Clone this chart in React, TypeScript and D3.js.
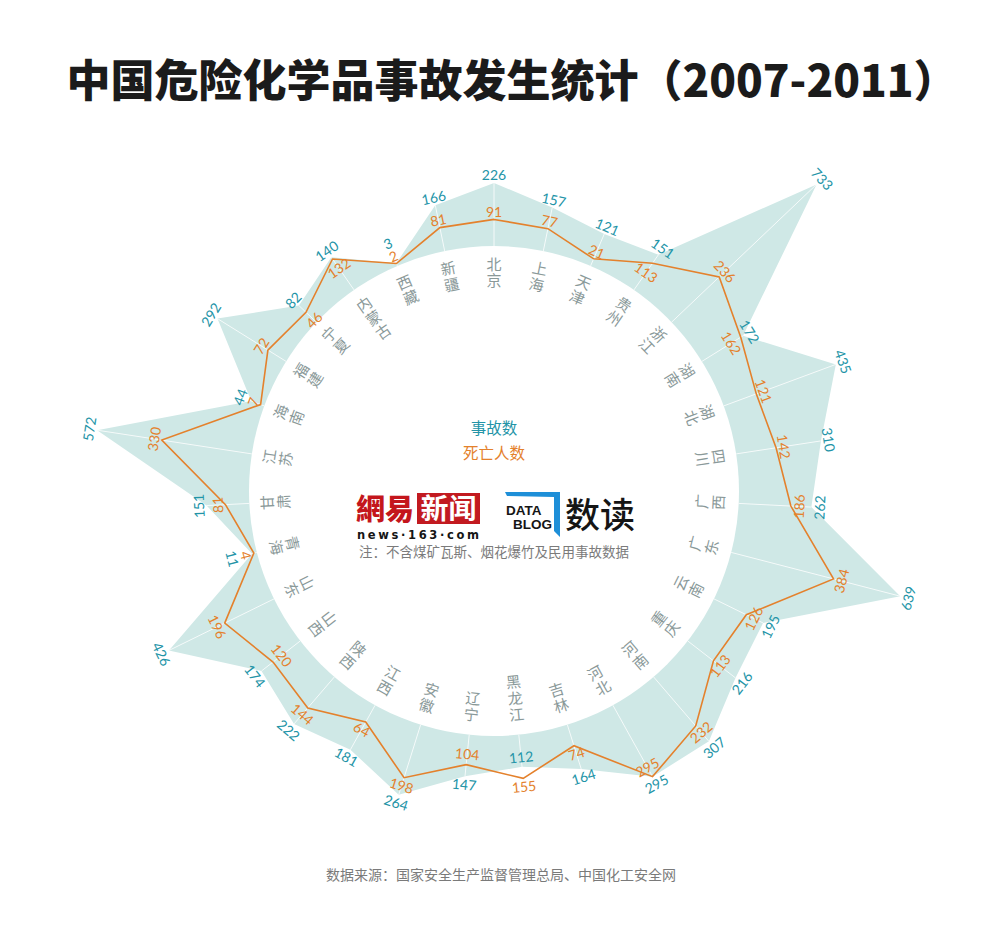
import { useEffect, useRef } from 'react';
import * as d3 from 'd3';

// clockwise from the top
const PROVINCES = [
  '北京', '上海', '天津', '贵州', '浙江', '湖南', '湖北', '四川', '广西', '广东', '云南',
  '重庆', '河南', '河北', '吉林', '黑龙江', '辽宁', '安徽', '江西', '陕西', '山西', '山东',
  '青海', '甘肃', '江苏', '海南', '福建', '宁夏', '内蒙古', '西藏', '新疆',
];
const ACCIDENTS = [
  226, 157, 121, 151, 733, 172, 435, 310, 262, 639, 195,
  216, 307, 295, 164, 112, 147, 264, 181, 222, 174, 426,
  11, 151, 572, 44, 292, 82, 140, 3, 166,
];
const DEATHS = [
  91, 77, 21, 113, 236, 162, 121, 142, 186, 384, 126,
  113, 232, 295, 74, 155, 104, 198, 64, 144, 120, 196,
  4, 81, 330, 7, 72, 46, 132, 2, 81,
];

const TEAL = '#2394a7';
const ORANGE = '#e4812c';
const FILL = '#cfe8e6';
const LABEL_GRAY = '#8a9999';
const CJK = '"Noto Sans CJK SC", "Noto Sans", sans-serif';

const W = 1001;
const H = 940;
const CX = 494;
const CY = 491;
const INNER = 245;

function RadialChart() {
  const svgRef = useRef<SVGSVGElement>(null);

  useEffect(() => {
    if (!svgRef.current) return;
    const svg = d3.select(svgRef.current);
    svg.selectAll('*').remove();
    svg.attr('width', W).attr('height', H);

    svg.append('rect').attr('width', W).attr('height', H).attr('fill', '#fff');

    // Title
    svg.append('text')
      .attr('x', 512).attr('y', 97)
      .attr('text-anchor', 'middle')
      .attr('font-family', CJK).attr('font-weight', 900).attr('font-size', 44)
      .attr('fill', '#1b1b1b')
      .text('中国危险化学品事故发生统计（2007-2011）');

    const n = PROVINCES.length;
    const idx = d3.range(n);
    const angle = d3.scaleLinear().domain([0, n]).range([0, 2 * Math.PI]);
    const r = d3.scaleLinear().domain([0, d3.max(ACCIDENTS)!]).range([247, 445]);
    const pt = (a: number, rad: number) => [rad * Math.sin(a), -rad * Math.cos(a)];
    const deg = (a: number) => (a * 180) / Math.PI;
    // lower half gets flipped so text stays readable
    const flipped = (a: number) => deg(a) > 90 && deg(a) < 265;

    const g = svg.append('g').attr('transform', `translate(${CX},${CY})`);

    const area = d3.lineRadial<number>()
      .angle(i => angle(i))
      .radius(i => r(ACCIDENTS[i]))
      .curve(d3.curveLinearClosed);
    g.append('path').attr('d', area(idx)).attr('fill', FILL);
    g.append('circle').attr('r', INNER).attr('fill', '#fff');

    // spokes
    idx.forEach(i => {
      const a = angle(i);
      const [x1, y1] = pt(a, INNER);
      const [x2, y2] = pt(a, r(Math.max(ACCIDENTS[i], DEATHS[i])));
      g.append('line')
        .attr('x1', x1).attr('y1', y1).attr('x2', x2).attr('y2', y2)
        .attr('stroke', '#fff').attr('stroke-width', 1).attr('opacity', 0.8);
    });

    const line = d3.lineRadial<number>()
      .angle(i => angle(i))
      .radius(i => r(DEATHS[i]))
      .curve(d3.curveLinearClosed);
    g.append('path').attr('d', line(idx))
      .attr('fill', 'none').attr('stroke', ORANGE).attr('stroke-width', 1.6);

    // province names, stacked along the radius
    idx.forEach(i => {
      const a = angle(i);
      const chars = Array.from(PROVINCES[i]);
      const flip = flipped(a);
      const outer = flip ? 224 : 228;
      const rot = flip ? deg(a) - 180 : deg(a);
      chars.forEach((c, k) => {
        const pos = flip ? chars.length - 1 - k : k;
        const [x, y] = pt(a, outer - pos * 16.5);
        g.append('text')
          .attr('transform', `translate(${x},${y}) rotate(${rot})`)
          .attr('text-anchor', 'middle').attr('dominant-baseline', 'central')
          .attr('font-family', CJK).attr('font-size', 15).attr('fill', LABEL_GRAY)
          .text(c);
      });
    });

    // value labels
    const r0 = r(0);
    idx.forEach(i => {
      const a = angle(i);
      const acc = ACCIDENTS[i];
      const dth = DEATHS[i];
      const rA = r(acc);
      const rD = r(dth);
      let tealR = rA + 8;
      let orR = rD + 8;
      if (dth > acc) {
        tealR = rA - 10;
      } else if (dth === acc) {
        orR = rD - 11;
      } else if (rA - rD < 16) {
        if (rD - r0 > 10) orR = rD - 11;
        else tealR = Math.max(rA + 8, rD + 22);
      }
      const rot = flipped(a) ? deg(a) - 180 : deg(a);
      [
        { rad: tealR, color: TEAL, v: acc },
        { rad: orR, color: ORANGE, v: dth },
      ].forEach(l => {
        const [x, y] = pt(a, l.rad);
        g.append('text')
          .attr('transform', `translate(${x},${y}) rotate(${rot})`)
          .attr('text-anchor', 'middle').attr('dominant-baseline', 'central')
          .attr('font-family', 'Lato, "Noto Sans", sans-serif').attr('font-size', 14)
          .attr('fill', l.color)
          .text(l.v);
      });
    });

    // legend
    svg.append('text').attr('x', 494).attr('y', 434).attr('text-anchor', 'middle')
      .attr('font-family', CJK).attr('font-size', 15.5).attr('fill', TEAL).text('事故数');
    svg.append('text').attr('x', 494).attr('y', 459).attr('text-anchor', 'middle')
      .attr('font-family', CJK).attr('font-size', 15.5).attr('fill', ORANGE).text('死亡人数');

    // 网易新闻 logo
    svg.append('text').attr('x', 356).attr('y', 520)
      .attr('font-family', '"Noto Sans CJK TC", "Noto Sans CJK SC", sans-serif')
      .attr('font-weight', 900).attr('font-size', 29).attr('fill', '#c4161c')
      .text('網易');
    svg.append('rect').attr('x', 417).attr('y', 493).attr('width', 63).attr('height', 31)
      .attr('fill', '#c21a20');
    svg.append('text').attr('x', 448.5).attr('y', 519).attr('text-anchor', 'middle')
      .attr('font-family', CJK).attr('font-weight', 700).attr('font-size', 28).attr('fill', '#fff')
      .text('新闻');
    svg.append('text').attr('x', 357).attr('y', 539)
      .attr('font-family', '"DejaVu Sans", sans-serif').attr('font-weight', 700)
      .attr('font-size', 11.5).attr('fill', '#151515')
      .attr('textLength', 122).attr('lengthAdjust', 'spacing')
      .text('news·163·com');

    // DATA BLOG 数读 logo
    svg.append('path')
      .attr('d', 'M505,492 L560,492 L560,537 L554,531 L554,497 L507,496 Z')
      .attr('fill', '#1e8fd8');
    svg.append('text').attr('x', 506).attr('y', 515)
      .attr('font-family', '"Liberation Sans", Arial, sans-serif').attr('font-weight', 700)
      .attr('font-size', 13.5).attr('fill', '#151515').text('DATA');
    svg.append('text').attr('x', 513).attr('y', 529)
      .attr('font-family', '"Liberation Sans", Arial, sans-serif').attr('font-weight', 700)
      .attr('font-size', 13.5).attr('fill', '#151515').text('BLOG');
    svg.append('text').attr('x', 565).attr('y', 528)
      .attr('font-family', CJK).attr('font-weight', 500).attr('font-size', 35).attr('fill', '#151515')
      .text('数读');

    svg.append('text').attr('x', 494).attr('y', 557).attr('text-anchor', 'middle')
      .attr('font-family', CJK).attr('font-size', 13.5).attr('fill', '#7b7b7b')
      .text('注：不含煤矿瓦斯、烟花爆竹及民用事故数据');

    // source
    svg.append('text').attr('x', 501).attr('y', 880).attr('text-anchor', 'middle')
      .attr('font-family', CJK).attr('font-size', 14).attr('fill', '#7a7a7a')
      .text('数据来源：国家安全生产监督管理总局、中国化工安全网');
  }, []);

  return <svg ref={svgRef} />;
}

export default function App() {
  return (
    <div style={{ position: 'absolute', left: 0, top: 0 }}>
      <RadialChart />
    </div>
  );
}
